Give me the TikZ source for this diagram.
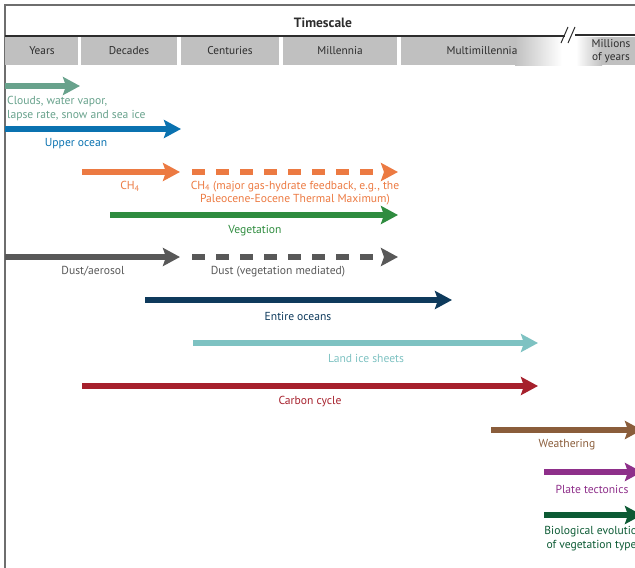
\documentclass[tikz,border=0pt]{standalone}
\usepackage{fontspec}
\setmainfont{PT Sans}
\usetikzlibrary{arrows.meta}
\definecolor{bandgray}{RGB}{192,192,192}
\definecolor{headtext}{RGB}{45,45,45}
\definecolor{framegray}{RGB}{110,110,110}
\definecolor{cloudcol}{RGB}{104,162,140}
\definecolor{uppercol}{RGB}{10,114,176}
\definecolor{methcol}{RGB}{236,122,66}
\definecolor{vegcol}{RGB}{47,140,63}
\definecolor{dustcol}{RGB}{88,88,88}
\definecolor{oceancol}{RGB}{14,58,92}
\definecolor{icecol}{RGB}{126,194,194}
\definecolor{carboncol}{RGB}{166,32,44}
\definecolor{weathercol}{RGB}{138,93,59}
\definecolor{platecol}{RGB}{142,47,138}
\definecolor{biocol}{RGB}{12,90,52}

\begin{document}
\begin{tikzpicture}[x=1pt, y=-1pt,
        hdr/.style={font=\fontsize{11.3}{12}\selectfont, text=headtext, inner sep=0pt},
        lbl/.style={font=\fontsize{11.6}{13.5}\selectfont, inner sep=0pt},
        fb/.style={line width=6pt, -{Stealth[length=17pt, width=18pt, inset=3pt]}},
        fbdash/.style={fb, dash pattern=on 13pt off 11pt}
        ]
    \useasboundingbox (0,0) rectangle (635,568);
    \clip (0,0) rectangle (635,568);

    \draw[framegray, line width=1.5pt] (5,568) -- (5,5) -- (640,5);
    \node[hdr, font=\fontsize{13.5}{15}\selectfont\bfseries] (title) at (323,23) {Timescale};

    \fill[bandgray] (5,37) rectangle (78,65);
    \fill[bandgray] (81,37) rectangle (177,65);
    \fill[bandgray] (181,37) rectangle (279,65);
    \fill[bandgray] (283,37) rectangle (397,65);
    \fill[bandgray] (401,37) rectangle (516,65);
    \shade[left color=bandgray, right color=white] (515,37) rectangle (562,65);
    \shade[left color=white, right color=bandgray] (576,37) rectangle (602,65);
    \fill[bandgray] (601,37) rectangle (640,65);

    \draw[headtext, line width=1.5pt] (5,36) -- (565,36);
    \draw[headtext, line width=1.5pt] (575,35) -- (640,35);
    \draw[headtext, line width=1pt] (561,43) -- (568,27);
    \draw[headtext, line width=1pt] (568,43) -- (575,27);

    \node[hdr] (years) at (42,51) {Years};
    \node[hdr] (decades) at (129,51) {Decades};
    \node[hdr] (centuries) at (230,51) {Centuries};
    \node[hdr] (millennia) at (340,51) {Millennia};
    \node[hdr] (multi) at (482,51) {Multimillennia};
    \node[hdr, align=center, font=\fontsize{11.3}{13}\selectfont] (millions) at (611,51.5) {Millions\\of years};

    \coordinate (cloudsA) at (5,86);   \coordinate (cloudsB) at (80,86);
    \coordinate (upperA) at (5,129);   \coordinate (upperB) at (181,129);
    \coordinate (methA) at (82,172);   \coordinate (methB) at (180,172);
    \coordinate (methC) at (192,172);  \coordinate (methD) at (398,172);
    \coordinate (vegA) at (110,215);   \coordinate (vegB) at (398,215);
    \coordinate (dustA) at (5,257);    \coordinate (dustB) at (180,257);
    \coordinate (dustC) at (192,257);  \coordinate (dustD) at (398,257);
    \coordinate (oceanA) at (145,300); \coordinate (oceanB) at (452,300);
    \coordinate (iceA) at (193,343);   \coordinate (iceB) at (538,343);
    \coordinate (carbonA) at (82,386); \coordinate (carbonB) at (538,386);
    \coordinate (weatherA) at (491,430); \coordinate (weatherB) at (642,430);
    \coordinate (plateA) at (544,472); \coordinate (plateB) at (642,472);
    \coordinate (bioA) at (544,515);   \coordinate (bioB) at (642,515);

    \draw[fb, cloudcol] (cloudsA) -- (cloudsB);
    \draw[fb, uppercol] (upperA) -- (upperB);
    \draw[fb, methcol] (methA) -- (methB);
    \draw[fbdash, methcol] (methC) -- (methD);
    \draw[fb, vegcol] (vegA) -- (vegB);
    \draw[fb, dustcol] (dustA) -- (dustB);
    \draw[fbdash, dustcol] (dustC) -- (dustD);
    \draw[fb, oceancol] (oceanA) -- (oceanB);
    \draw[fb, icecol] (iceA) -- (iceB);
    \draw[fb, carboncol] (carbonA) -- (carbonB);
    \draw[fb, weathercol] (weatherA) -- (weatherB);
    \draw[fb, platecol] (plateA) -- (plateB);
    \draw[fb, biocol] (bioA) -- (bioB);

    \node[lbl, text=cloudcol, anchor=west, align=left] (cloudsL) at (7,108.5) {Clouds, water vapor,\\lapse rate, snow and sea ice};
    \node[lbl, text=uppercol] (upperL) at (76,143.5) {Upper ocean};
    \node[lbl, text=methcol] (methL) at (130,186.5) {CH\textsubscript{4}};
    \node[lbl, text=methcol, align=center] (methL2) at (295,193) {CH\textsubscript{4} (major gas-hydrate feedback, e.g., the\\Paleocene-Eocene Thermal Maximum)};
    \node[lbl, text=vegcol] (vegL) at (255,230.5) {Vegetation};
    \node[lbl, text=dustcol] (dustL) at (93,271.5) {Dust/aerosol};
    \node[lbl, text=dustcol] (dustL2) at (278,271.5) {Dust (vegetation mediated)};
    \node[lbl, text=oceancol] (oceanL) at (298,316.5) {Entire oceans};
    \node[lbl, text=icecol] (iceL) at (366,358.5) {Land ice sheets};
    \node[lbl, text=carboncol] (carbonL) at (310,401.5) {Carbon cycle};
    \node[lbl, text=weathercol] (weatherL) at (567,444.5) {Weathering};
    \node[lbl, text=platecol] (plateL) at (592,489) {Plate tectonics};
    \node[lbl, text=biocol, align=center] (bioL) at (594,538.5) {Biological evolution\\of vegetation types};

\end{tikzpicture}
\end{document}
